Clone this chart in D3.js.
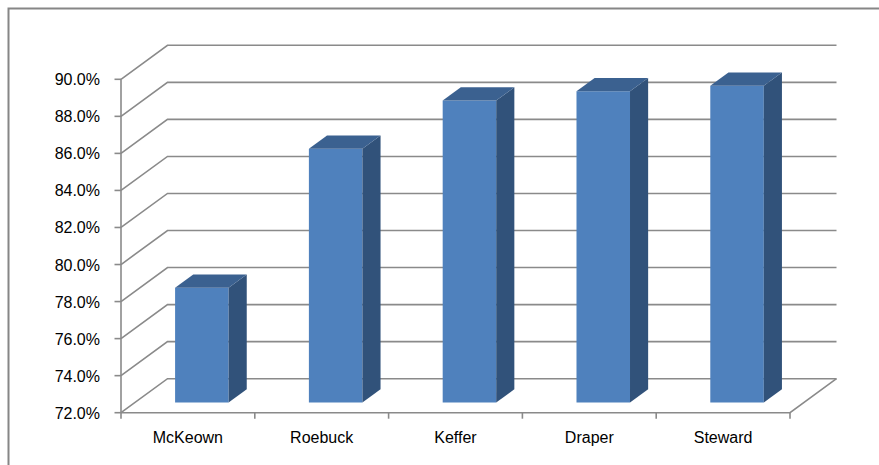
<!DOCTYPE html>
<html>
<head>
<meta charset="utf-8">
<script src="https://cdn.jsdelivr.net/npm/d3@7"></script>
<style>
  body { margin: 0; background: #fff; }
  svg { display: block; }
  text { font-family: "Liberation Sans", Arial, sans-serif; fill: #000; }
</style>
</head>
<body>
<svg id="chart"></svg>
<script>
const categories = ["McKeown", "Roebuck", "Keffer", "Draper", "Steward"];
const values = [78.2, 85.7, 88.3, 88.8, 89.1];
const yTicks = [72, 74, 76, 78, 80, 82, 84, 86, 88, 90];

const width = 879, height = 465;
// depth offset of the back wall
const DX = 46.5, DY = 34;
const barD0 = 0.3, barD1 = 0.69;

const svg = d3.select("#chart").attr("width", width).attr("height", height);

// chart border (runs off the right and bottom edge)
svg.append("path")
   .attr("d", "M8.5,470 L8.5,8.5 L890,8.5")
   .attr("fill", "none").attr("stroke", "#868686").attr("stroke-width", 2);

const x = d3.scaleBand().domain(categories).range([121, 790]).paddingInner(0.6).paddingOuter(0.3);
const y = d3.scaleLinear().domain([72, 90]).range([412.7, 79.3]);

const grid = svg.append("g").attr("stroke", "#8a8a8a").attr("stroke-width", 1.6).attr("fill", "none");

// side wall diagonals + back wall lines
grid.selectAll("path.grid")
    .data(yTicks)
    .enter()
    .append("path")
    .attr("class", "grid")
    .attr("d", d => `M121,${y(d)} L${121 + DX},${y(d) - DY} L${790 + DX},${y(d) - DY}`);

// floor
grid.append("path")
    .attr("d", `M121,${y(72)} L790,${y(72)} L${790 + DX},${y(72) - DY}`);

// category ticks
grid.selectAll("line.xt")
    .data(d3.range(categories.length + 1))
    .enter()
    .append("line")
    .attr("x1", i => 121 + i * x.step())
    .attr("x2", i => 121 + i * x.step())
    .attr("y1", y(72)).attr("y2", y(72) + 6);

// y axis
grid.append("line").attr("x1", 121).attr("x2", 121).attr("y1", y(90)).attr("y2", y(72));
grid.selectAll("line.yt")
    .data(yTicks)
    .enter()
    .append("line")
    .attr("x1", 114.5).attr("x2", 121)
    .attr("y1", d => y(d)).attr("y2", d => y(d));

// bars
const bars = svg.append("g").selectAll("g")
    .data(categories.map((c, i) => ({ c, v: values[i] })))
    .enter()
    .append("g");

const pt = (px, py, d) => [px + d * DX, py - d * DY];
const poly = pts => "M" + pts.map(p => p.join(",")).join("L") + "Z";

bars.each(function(d) {
    const g = d3.select(this);
    const x0 = x(d.c), x1 = x(d.c) + x.bandwidth();
    const yt = y(d.v), yb = y(72);
    // front face
    g.append("path")
     .attr("d", poly([pt(x0, yb, barD0), pt(x1, yb, barD0), pt(x1, yt, barD0), pt(x0, yt, barD0)]))
     .attr("fill", "#4f81bd");
    // right side
    g.append("path")
     .attr("d", poly([pt(x1, yb, barD0), pt(x1, yb, barD1), pt(x1, yt, barD1), pt(x1, yt, barD0)]))
     .attr("fill", "#31527a");
    // top
    g.append("path")
     .attr("d", poly([pt(x0, yt, barD0), pt(x1, yt, barD0), pt(x1, yt, barD1), pt(x0, yt, barD1)]))
     .attr("fill", "#3b6190");
});

// y labels
svg.append("g").selectAll("text")
   .data(yTicks)
   .enter()
   .append("text")
   .attr("x", 100)
   .attr("y", d => y(d) + 6)
   .attr("text-anchor", "end")
   .attr("font-size", 16)
   .text(d => d.toFixed(1) + "%");

// x labels
svg.append("g").selectAll("text")
   .data(categories)
   .enter()
   .append("text")
   .attr("x", d => x(d) + x.bandwidth() / 2)
   .attr("y", 443)
   .attr("text-anchor", "middle")
   .attr("font-size", 16)
   .text(d => d);
</script>
</body>
</html>
